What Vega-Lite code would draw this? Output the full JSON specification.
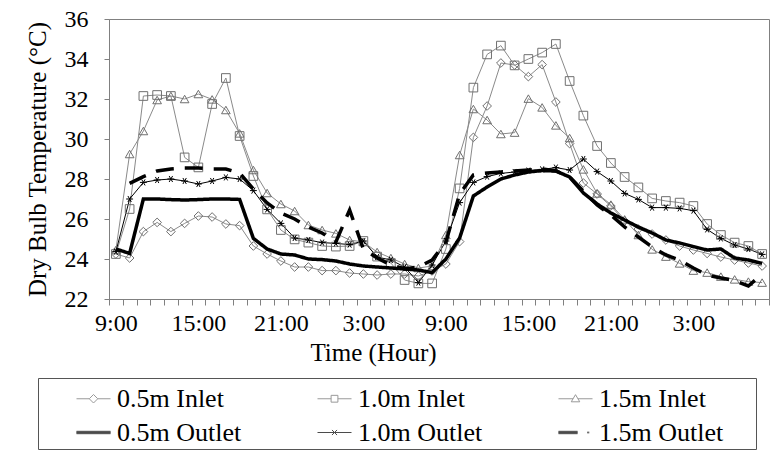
{
"$schema": "https://vega.github.io/schema/vega-lite/v6.json",
"width": 660,
"height": 280,
"autosize": {"type": "none"},
"padding": {"left": 109, "top": 19, "right": 3, "bottom": 159},
"background": "white",
"config": {
  "font": "Liberation Serif",
  "view": {"stroke": "#808080", "strokeWidth": 1},
  "axis": {"domainColor": "#808080", "tickColor": "#808080", "labelColor": "#000000", "titleFontWeight": "normal", "titleColor": "#000000", "grid": false},
  "legend": {"labelColor": "#000000"}
},
"datasets": {"d": [
{"s":"0.5m Inlet","h":0,"t":24.25},{"s":"0.5m Inlet","h":1,"t":24.05},{"s":"0.5m Inlet","h":2,"t":25.37},{"s":"0.5m Inlet","h":3,"t":25.83},{"s":"0.5m Inlet","h":4,"t":25.37},{"s":"0.5m Inlet","h":5,"t":25.78},{"s":"0.5m Inlet","h":6,"t":26.15},{"s":"0.5m Inlet","h":7,"t":26.1},{"s":"0.5m Inlet","h":8,"t":25.75},{"s":"0.5m Inlet","h":9,"t":25.67},
{"s":"0.5m Inlet","h":10,"t":24.65},{"s":"0.5m Inlet","h":11,"t":24.25},{"s":"0.5m Inlet","h":12,"t":23.9},{"s":"0.5m Inlet","h":13,"t":23.6},{"s":"0.5m Inlet","h":14,"t":23.6},{"s":"0.5m Inlet","h":15,"t":23.42},{"s":"0.5m Inlet","h":16,"t":23.42},{"s":"0.5m Inlet","h":17,"t":23.3},{"s":"0.5m Inlet","h":18,"t":23.25},{"s":"0.5m Inlet","h":19,"t":23.2},
{"s":"0.5m Inlet","h":20,"t":23.25},{"s":"0.5m Inlet","h":21,"t":23.25},{"s":"0.5m Inlet","h":22,"t":23.15},{"s":"0.5m Inlet","h":23,"t":23.4},{"s":"0.5m Inlet","h":24,"t":23.75},{"s":"0.5m Inlet","h":25,"t":24.87},{"s":"0.5m Inlet","h":26,"t":30.08},{"s":"0.5m Inlet","h":27,"t":31.65},{"s":"0.5m Inlet","h":28,"t":33.8},{"s":"0.5m Inlet","h":29,"t":33.7},
{"s":"0.5m Inlet","h":30,"t":33.12},{"s":"0.5m Inlet","h":31,"t":33.72},{"s":"0.5m Inlet","h":32,"t":31.85},{"s":"0.5m Inlet","h":33,"t":29.77},{"s":"0.5m Inlet","h":34,"t":27.8},{"s":"0.5m Inlet","h":35,"t":27.25},{"s":"0.5m Inlet","h":36,"t":26.65},{"s":"0.5m Inlet","h":37,"t":25.9},{"s":"0.5m Inlet","h":38,"t":25.5},{"s":"0.5m Inlet","h":39,"t":25.25},
{"s":"0.5m Inlet","h":40,"t":24.95},{"s":"0.5m Inlet","h":41,"t":24.65},{"s":"0.5m Inlet","h":42,"t":24.45},{"s":"0.5m Inlet","h":43,"t":24.28},{"s":"0.5m Inlet","h":44,"t":24.1},{"s":"0.5m Inlet","h":45,"t":23.95},{"s":"0.5m Inlet","h":46,"t":23.8},{"s":"0.5m Inlet","h":47,"t":23.65},
{"s":"1.0m Inlet","h":0,"t":24.25},{"s":"1.0m Inlet","h":1,"t":26.5},{"s":"1.0m Inlet","h":2,"t":32.15},{"s":"1.0m Inlet","h":3,"t":32.2},{"s":"1.0m Inlet","h":4,"t":32.15},{"s":"1.0m Inlet","h":5,"t":29.08},{"s":"1.0m Inlet","h":6,"t":28.58},{"s":"1.0m Inlet","h":7,"t":31.75},{"s":"1.0m Inlet","h":8,"t":33.05},{"s":"1.0m Inlet","h":9,"t":30.15},
{"s":"1.0m Inlet","h":10,"t":28.15},{"s":"1.0m Inlet","h":11,"t":26.48},{"s":"1.0m Inlet","h":12,"t":25.45},{"s":"1.0m Inlet","h":13,"t":24.98},{"s":"1.0m Inlet","h":14,"t":24.82},{"s":"1.0m Inlet","h":15,"t":24.65},{"s":"1.0m Inlet","h":16,"t":24.62},{"s":"1.0m Inlet","h":17,"t":24.65},{"s":"1.0m Inlet","h":18,"t":24.9},{"s":"1.0m Inlet","h":19,"t":24.12},
{"s":"1.0m Inlet","h":20,"t":23.8},{"s":"1.0m Inlet","h":21,"t":22.95},{"s":"1.0m Inlet","h":22,"t":22.78},{"s":"1.0m Inlet","h":23,"t":22.78},{"s":"1.0m Inlet","h":24,"t":24.5},{"s":"1.0m Inlet","h":25,"t":27.53},{"s":"1.0m Inlet","h":26,"t":32.57},{"s":"1.0m Inlet","h":27,"t":34.23},{"s":"1.0m Inlet","h":28,"t":34.67},{"s":"1.0m Inlet","h":29,"t":33.68},
{"s":"1.0m Inlet","h":30,"t":34.0},{"s":"1.0m Inlet","h":31,"t":34.32},{"s":"1.0m Inlet","h":32,"t":34.75},{"s":"1.0m Inlet","h":33,"t":32.9},{"s":"1.0m Inlet","h":34,"t":31.17},{"s":"1.0m Inlet","h":35,"t":29.65},{"s":"1.0m Inlet","h":36,"t":28.8},{"s":"1.0m Inlet","h":37,"t":28.1},{"s":"1.0m Inlet","h":38,"t":27.58},{"s":"1.0m Inlet","h":39,"t":27.03},
{"s":"1.0m Inlet","h":40,"t":26.9},{"s":"1.0m Inlet","h":41,"t":26.82},{"s":"1.0m Inlet","h":42,"t":26.65},{"s":"1.0m Inlet","h":43,"t":25.75},{"s":"1.0m Inlet","h":44,"t":25.2},{"s":"1.0m Inlet","h":45,"t":24.82},{"s":"1.0m Inlet","h":46,"t":24.65},{"s":"1.0m Inlet","h":47,"t":24.25},
{"s":"1.5m Inlet","h":0,"t":24.45},{"s":"1.5m Inlet","h":1,"t":29.25},{"s":"1.5m Inlet","h":2,"t":30.4},{"s":"1.5m Inlet","h":3,"t":31.95},{"s":"1.5m Inlet","h":4,"t":32.15},{"s":"1.5m Inlet","h":5,"t":32.0},{"s":"1.5m Inlet","h":6,"t":32.25},{"s":"1.5m Inlet","h":7,"t":31.98},{"s":"1.5m Inlet","h":8,"t":31.45},{"s":"1.5m Inlet","h":9,"t":30.28},
{"s":"1.5m Inlet","h":10,"t":28.45},{"s":"1.5m Inlet","h":11,"t":27.3},{"s":"1.5m Inlet","h":12,"t":26.75},{"s":"1.5m Inlet","h":13,"t":26.4},{"s":"1.5m Inlet","h":14,"t":25.7},{"s":"1.5m Inlet","h":15,"t":25.45},{"s":"1.5m Inlet","h":16,"t":25.28},{"s":"1.5m Inlet","h":17,"t":24.95},{"s":"1.5m Inlet","h":18,"t":24.85},{"s":"1.5m Inlet","h":19,"t":24.35},
{"s":"1.5m Inlet","h":20,"t":24.05},{"s":"1.5m Inlet","h":21,"t":23.75},{"s":"1.5m Inlet","h":22,"t":23.55},{"s":"1.5m Inlet","h":23,"t":23.65},{"s":"1.5m Inlet","h":24,"t":25.2},{"s":"1.5m Inlet","h":25,"t":29.2},{"s":"1.5m Inlet","h":26,"t":31.5},{"s":"1.5m Inlet","h":27,"t":30.95},{"s":"1.5m Inlet","h":28,"t":30.25},{"s":"1.5m Inlet","h":29,"t":30.32},
{"s":"1.5m Inlet","h":30,"t":32.02},{"s":"1.5m Inlet","h":31,"t":31.58},{"s":"1.5m Inlet","h":32,"t":30.68},{"s":"1.5m Inlet","h":33,"t":30.05},{"s":"1.5m Inlet","h":34,"t":28.48},{"s":"1.5m Inlet","h":35,"t":27.28},{"s":"1.5m Inlet","h":36,"t":26.72},{"s":"1.5m Inlet","h":37,"t":25.98},{"s":"1.5m Inlet","h":38,"t":25.2},{"s":"1.5m Inlet","h":39,"t":24.48},
{"s":"1.5m Inlet","h":40,"t":24.12},{"s":"1.5m Inlet","h":41,"t":23.78},{"s":"1.5m Inlet","h":42,"t":23.42},{"s":"1.5m Inlet","h":43,"t":23.32},{"s":"1.5m Inlet","h":44,"t":23.12},{"s":"1.5m Inlet","h":45,"t":22.98},{"s":"1.5m Inlet","h":46,"t":22.87},{"s":"1.5m Inlet","h":47,"t":22.82},
{"s":"0.5m Outlet","h":0,"t":24.5},{"s":"0.5m Outlet","h":1,"t":24.28},{"s":"0.5m Outlet","h":2,"t":27.0},{"s":"0.5m Outlet","h":3,"t":27.0},{"s":"0.5m Outlet","h":4,"t":26.97},{"s":"0.5m Outlet","h":5,"t":26.95},{"s":"0.5m Outlet","h":6,"t":26.97},{"s":"0.5m Outlet","h":7,"t":27.0},{"s":"0.5m Outlet","h":8,"t":27.0},{"s":"0.5m Outlet","h":9,"t":26.98},
{"s":"0.5m Outlet","h":10,"t":25.03},{"s":"0.5m Outlet","h":11,"t":24.5},{"s":"0.5m Outlet","h":12,"t":24.25},{"s":"0.5m Outlet","h":13,"t":24.2},{"s":"0.5m Outlet","h":14,"t":24.0},{"s":"0.5m Outlet","h":15,"t":23.97},{"s":"0.5m Outlet","h":16,"t":23.9},{"s":"0.5m Outlet","h":17,"t":23.75},{"s":"0.5m Outlet","h":18,"t":23.65},{"s":"0.5m Outlet","h":19,"t":23.6},
{"s":"0.5m Outlet","h":20,"t":23.55},{"s":"0.5m Outlet","h":21,"t":23.5},{"s":"0.5m Outlet","h":22,"t":23.45},{"s":"0.5m Outlet","h":23,"t":23.32},{"s":"0.5m Outlet","h":24,"t":24.0},{"s":"0.5m Outlet","h":25,"t":25.05},{"s":"0.5m Outlet","h":26,"t":27.15},{"s":"0.5m Outlet","h":27,"t":27.6},{"s":"0.5m Outlet","h":28,"t":28.0},{"s":"0.5m Outlet","h":29,"t":28.2},
{"s":"0.5m Outlet","h":30,"t":28.35},{"s":"0.5m Outlet","h":31,"t":28.42},{"s":"0.5m Outlet","h":32,"t":28.4},{"s":"0.5m Outlet","h":33,"t":28.1},{"s":"0.5m Outlet","h":34,"t":27.3},{"s":"0.5m Outlet","h":35,"t":26.75},{"s":"0.5m Outlet","h":36,"t":26.3},{"s":"0.5m Outlet","h":37,"t":25.95},{"s":"0.5m Outlet","h":38,"t":25.6},{"s":"0.5m Outlet","h":39,"t":25.3},
{"s":"0.5m Outlet","h":40,"t":24.95},{"s":"0.5m Outlet","h":41,"t":24.8},{"s":"0.5m Outlet","h":42,"t":24.62},{"s":"0.5m Outlet","h":43,"t":24.45},{"s":"0.5m Outlet","h":44,"t":24.5},{"s":"0.5m Outlet","h":45,"t":24.05},{"s":"0.5m Outlet","h":46,"t":23.95},{"s":"0.5m Outlet","h":47,"t":23.78},
{"s":"1.0m Outlet","h":0,"t":24.37},{"s":"1.0m Outlet","h":1,"t":27.0},{"s":"1.0m Outlet","h":2,"t":27.83},{"s":"1.0m Outlet","h":3,"t":27.95},{"s":"1.0m Outlet","h":4,"t":28.0},{"s":"1.0m Outlet","h":5,"t":27.9},{"s":"1.0m Outlet","h":6,"t":27.75},{"s":"1.0m Outlet","h":7,"t":27.9},{"s":"1.0m Outlet","h":8,"t":28.08},{"s":"1.0m Outlet","h":9,"t":28.0},
{"s":"1.0m Outlet","h":10,"t":27.42},{"s":"1.0m Outlet","h":11,"t":26.48},{"s":"1.0m Outlet","h":12,"t":25.78},{"s":"1.0m Outlet","h":13,"t":25.05},{"s":"1.0m Outlet","h":14,"t":24.95},{"s":"1.0m Outlet","h":15,"t":24.82},{"s":"1.0m Outlet","h":16,"t":24.78},{"s":"1.0m Outlet","h":17,"t":24.72},{"s":"1.0m Outlet","h":18,"t":24.9},{"s":"1.0m Outlet","h":19,"t":24.1},
{"s":"1.0m Outlet","h":20,"t":23.95},{"s":"1.0m Outlet","h":21,"t":23.6},{"s":"1.0m Outlet","h":22,"t":22.82},{"s":"1.0m Outlet","h":23,"t":23.7},{"s":"1.0m Outlet","h":24,"t":24.9},{"s":"1.0m Outlet","h":25,"t":26.82},{"s":"1.0m Outlet","h":26,"t":27.83},{"s":"1.0m Outlet","h":27,"t":28.12},{"s":"1.0m Outlet","h":28,"t":28.28},{"s":"1.0m Outlet","h":29,"t":28.35},
{"s":"1.0m Outlet","h":30,"t":28.42},{"s":"1.0m Outlet","h":31,"t":28.48},{"s":"1.0m Outlet","h":32,"t":28.57},{"s":"1.0m Outlet","h":33,"t":28.45},{"s":"1.0m Outlet","h":34,"t":29.0},{"s":"1.0m Outlet","h":35,"t":28.37},{"s":"1.0m Outlet","h":36,"t":27.9},{"s":"1.0m Outlet","h":37,"t":27.28},{"s":"1.0m Outlet","h":38,"t":26.98},{"s":"1.0m Outlet","h":39,"t":26.57},
{"s":"1.0m Outlet","h":40,"t":26.57},{"s":"1.0m Outlet","h":41,"t":26.53},{"s":"1.0m Outlet","h":42,"t":26.42},{"s":"1.0m Outlet","h":43,"t":25.48},{"s":"1.0m Outlet","h":44,"t":25.03},{"s":"1.0m Outlet","h":45,"t":24.7},{"s":"1.0m Outlet","h":46,"t":24.5},{"s":"1.0m Outlet","h":47,"t":24.23},
{"s":"1.5m Outlet","h":1,"t":27.78},{"s":"1.5m Outlet","h":2,"t":28.12},{"s":"1.5m Outlet","h":3,"t":28.4},{"s":"1.5m Outlet","h":4,"t":28.5},{"s":"1.5m Outlet","h":5,"t":28.55},{"s":"1.5m Outlet","h":6,"t":28.55},{"s":"1.5m Outlet","h":7,"t":28.5},{"s":"1.5m Outlet","h":8,"t":28.5},{"s":"1.5m Outlet","h":9,"t":28.3},
{"s":"1.5m Outlet","h":10,"t":27.5},{"s":"1.5m Outlet","h":11,"t":26.8},{"s":"1.5m Outlet","h":12,"t":26.3},{"s":"1.5m Outlet","h":13,"t":26.0},{"s":"1.5m Outlet","h":14,"t":25.6},{"s":"1.5m Outlet","h":15,"t":25.3},{"s":"1.5m Outlet","h":16,"t":24.85},{"s":"1.5m Outlet","h":17,"t":26.45},{"s":"1.5m Outlet","h":18,"t":24.5},{"s":"1.5m Outlet","h":19,"t":24.05},
{"s":"1.5m Outlet","h":20,"t":23.7},{"s":"1.5m Outlet","h":21,"t":23.5},{"s":"1.5m Outlet","h":22,"t":23.6},{"s":"1.5m Outlet","h":23,"t":23.95},{"s":"1.5m Outlet","h":24,"t":24.85},{"s":"1.5m Outlet","h":25,"t":27.25},{"s":"1.5m Outlet","h":26,"t":28.2},{"s":"1.5m Outlet","h":27,"t":28.3},{"s":"1.5m Outlet","h":28,"t":28.35},{"s":"1.5m Outlet","h":29,"t":28.4},
{"s":"1.5m Outlet","h":30,"t":28.45},{"s":"1.5m Outlet","h":31,"t":28.5},{"s":"1.5m Outlet","h":32,"t":28.4},{"s":"1.5m Outlet","h":33,"t":28.1},{"s":"1.5m Outlet","h":34,"t":27.4},{"s":"1.5m Outlet","h":35,"t":26.7},{"s":"1.5m Outlet","h":36,"t":26.2},{"s":"1.5m Outlet","h":37,"t":25.6},{"s":"1.5m Outlet","h":38,"t":25.1},{"s":"1.5m Outlet","h":39,"t":24.6},
{"s":"1.5m Outlet","h":40,"t":24.2},{"s":"1.5m Outlet","h":41,"t":23.95},{"s":"1.5m Outlet","h":42,"t":23.55},{"s":"1.5m Outlet","h":43,"t":23.2},{"s":"1.5m Outlet","h":44,"t":23.05},{"s":"1.5m Outlet","h":45,"t":22.92},{"s":"1.5m Outlet","h":46,"t":22.65},{"s":"1.5m Outlet","h":47,"t":23.25}
]},
"data": {"name": "d"},
"encoding": {
  "x": {"field": "h", "type": "quantitative", "scale": {"domain": [-0.5, 47.5], "nice": false, "zero": false},
    "axis": {"values": [-0.5,0.5,1.5,2.5,3.5,4.5,5.5,6.5,7.5,8.5,9.5,10.5,11.5,12.5,13.5,14.5,15.5,16.5,17.5,18.5,19.5,20.5,21.5,22.5,23.5,24.5,25.5,26.5,27.5,28.5,29.5,30.5,31.5,32.5,33.5,34.5,35.5,36.5,37.5,38.5,39.5,40.5,41.5,42.5,43.5,44.5,45.5,46.5,47.5],
      "labelExpr": "(datum.value + 0.5) % 6 == 0 && datum.value < 47 ? ((datum.value + 9.5) % 24) + ':00' : ''",
      "labelOffset": 6.875, "labelOverlap": false, "labelFlush": false, "labelBound": false,
      "labelFont": "Liberation Serif", "labelFontSize": 24, "titleFont": "Liberation Serif", "titleFontSize": 25,
      "tickSize": 6, "labelPadding": 6, "title": "Time (Hour)", "titleX": 264, "titlePadding": 5}},
  "y": {"field": "t", "type": "quantitative", "scale": {"domain": [22, 36], "nice": false, "zero": false},
    "axis": {"values": [22,24,26,28,30,32,34,36], "tickSize": 5, "labelPadding": 16,
      "labelFont": "Liberation Serif", "labelFontSize": 24, "titleFont": "Liberation Serif", "titleFontSize": 25,
      "title": "Dry Bulb Temperature (°C)", "titlePadding": 14}}
},
"layer": [
  {
    "transform": [{"filter": "datum.s == '0.5m Inlet' || datum.s == '1.0m Inlet' || datum.s == '1.5m Inlet' || datum.s == '1.0m Outlet'"}],
    "mark": {"type": "line", "strokeWidth": 1},
    "encoding": {"color": {"field": "s", "type": "nominal", "legend": null,
      "scale": {"domain": ["0.5m Inlet","1.0m Inlet","1.5m Inlet","1.0m Outlet"], "range": ["#8a8a8a","#8a8a8a","#8a8a8a","#000000"]}}}
  },
  {
    "transform": [{"filter": "datum.s == '0.5m Inlet' || datum.s == '1.0m Inlet' || datum.s == '1.5m Inlet' || datum.s == '1.0m Outlet'"}],
    "mark": {"type": "point", "filled": false, "strokeWidth": 1, "size": 75, "opacity": 1},
    "encoding": {
      "color": {"field": "s", "type": "nominal", "legend": null,
        "scale": {"domain": ["0.5m Inlet","1.0m Inlet","1.5m Inlet","1.0m Outlet"], "range": ["#6f6f6f","#6f6f6f","#6f6f6f","#000000"]}},
      "shape": {"field": "s", "type": "nominal", "legend": null,
        "scale": {"domain": ["0.5m Inlet","1.0m Inlet","1.5m Inlet","1.0m Outlet"], "range": ["diamond","square","triangle-up","M-0.8,0H0.8M-0.4,-0.7L0.4,0.7M-0.4,0.7L0.4,-0.7"]}}
    }
  },
  {
    "transform": [{"filter": "datum.s == '0.5m Outlet' || datum.s == '1.5m Outlet'"}],
    "mark": {"type": "line", "strokeWidth": 3.5, "color": "#000000", "strokeCap": "butt"},
    "encoding": {"strokeDash": {"field": "s", "type": "nominal", "legend": null,
      "scale": {"domain": ["0.5m Outlet","1.5m Outlet"], "range": [[1,0],[18,11]]}}}
  },
  {
    "transform": [{"filter": "datum.h < 0"}],
    "mark": {"type": "point", "filled": false, "strokeWidth": 1},
    "encoding": {
      "color": {"field": "s", "type": "nominal",
        "scale": {"domain": ["0.5m Inlet","1.0m Inlet","1.5m Inlet","0.5m Outlet","1.0m Outlet","1.5m Outlet"], "range": ["#6f6f6f","#6f6f6f","#6f6f6f","#000000","#000000","#000000"]},
        "legend": {"orient": "none", "legendX": -71, "legendY": 359, "columns": 3, "direction": "horizontal", "title": "\u00a0", "titleOrient": "left", "titlePadding": 35, "strokeColor": "#555555", "padding": 3, "symbolSize": 1156, "symbolStrokeWidth": 1, "labelOffset": 6, "columnPadding": 73, "rowPadding": 3, "labelLimit": 400, "labelFont": "Liberation Serif", "labelFontSize": 26, "titleFont": "Liberation Serif"}},
      "shape": {"field": "s", "type": "nominal",
        "scale": {"domain": ["0.5m Inlet","1.0m Inlet","1.5m Inlet","0.5m Outlet","1.0m Outlet","1.5m Outlet"], "range": [
          "M-1,0H-0.25M0.25,0H1M-0.25,0L0,-0.25L0.25,0L0,0.25Z",
          "M-1,0H-0.2M0.2,0H1M-0.2,-0.2H0.2V0.2H-0.2Z",
          "M-1,0H-0.14M0.14,0H1M-0.25,0.18L0,-0.24L0.25,0.18ZM10.3,0",
          "M-1,-0.07H1M-1,-0.035H1M-1,0H1M-1,0.035H1M-1,0.07H1",
          "M-1,0H1M-0.15,-0.15L0.15,0.15M-0.15,0.15L0.15,-0.15",
          "M-1,-0.07H0.12M-1,-0.035H0.12M-1,0H0.12M-1,0.035H0.12M-1,0.07H0.12M0.72,-0.05V0.05M0.78,-0.05V0.05M10.3,0"]},
        "legend": {"orient": "none", "legendX": -71, "legendY": 359, "columns": 3, "direction": "horizontal", "title": "\u00a0", "titleOrient": "left", "titlePadding": 35, "strokeColor": "#555555", "padding": 3, "symbolSize": 1156, "symbolStrokeWidth": 1, "labelOffset": 6, "columnPadding": 73, "rowPadding": 3, "labelLimit": 400, "labelFont": "Liberation Serif", "labelFontSize": 26, "titleFont": "Liberation Serif"}}
    }
  }
],
"resolve": {"scale": {"color": "independent", "shape": "independent", "strokeDash": "independent"}}
}
